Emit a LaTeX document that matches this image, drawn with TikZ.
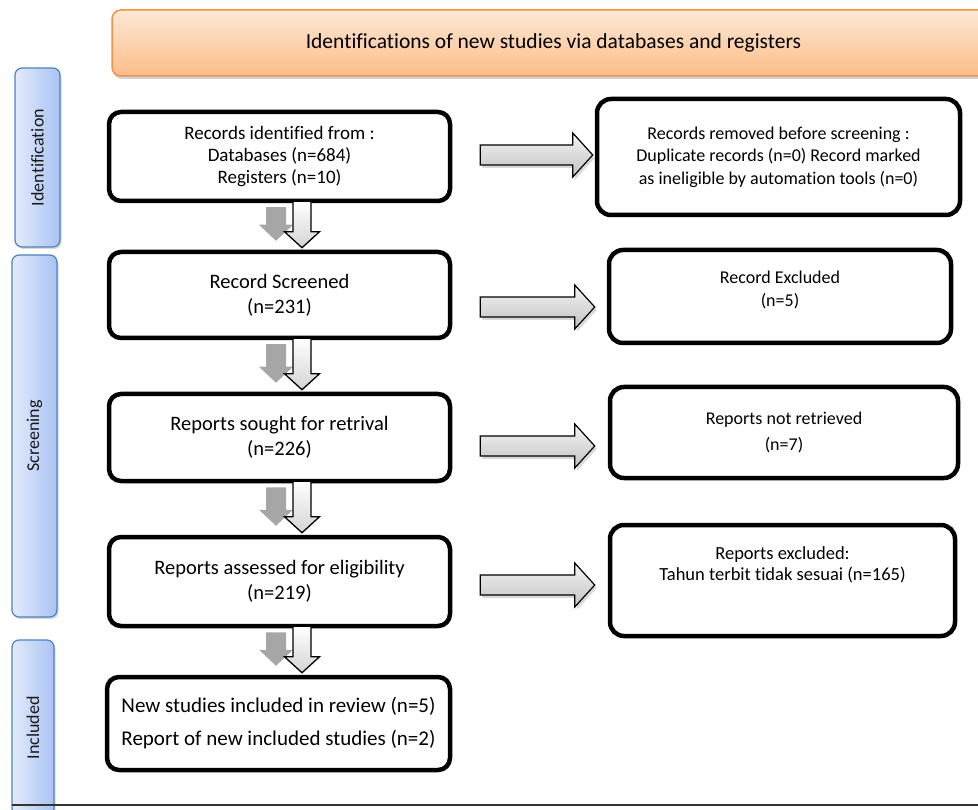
\documentclass[tikz,border=0pt]{standalone}
\usepackage{fontspec}
\setmainfont{Carlito}[Ligatures=NoCommon]
\usetikzlibrary{calc,shadows,backgrounds}
\definecolor{hdrtop}{HTML}{FDE8D6}
\definecolor{hdrbot}{HTML}{FBBD88}
\definecolor{hdrline}{HTML}{F3914A}
\definecolor{sidel}{HTML}{E3EBFB}
\definecolor{sider}{HTML}{A9C3F3}
\definecolor{sideline}{HTML}{4F81BD}
\definecolor{arrtop}{HTML}{F4F4F4}
\definecolor{arrbot}{HTML}{C2C2C2}
\definecolor{shadegray}{HTML}{A6A6A6}
\newcommand{\vflow}[2]{%
 \begin{pgfonlayer}{background}
 \path[grayarr] let \p1=(#1.south), \p2=(#2.north) in
  (\x1-13.5pt,\y1-4pt) -- (\x1+6.5pt,\y1-4pt) -- (\x1+6.5pt,\y2+25pt) -- (\x1+13.5pt,\y2+25pt)
  -- (\x1-3.5pt,\y2+9pt) -- (\x1-20.5pt,\y2+25pt) -- (\x1-13.5pt,\y2+25pt) -- cycle;
 \end{pgfonlayer}
 \path[whitearr] let \p1=(#1.south), \p2=(#2.north) in
  (\x1+13.5pt,\y1+2pt) -- (\x1+31.5pt,\y1+2pt) -- (\x1+31.5pt,\y2+18pt) -- (\x1+40pt,\y2+18pt)
  -- (\x1+22.5pt,\y2+2pt) -- (\x1+5pt,\y2+18pt) -- (\x1+13.5pt,\y2+18pt) -- cycle;
}
\newcommand{\hflow}[4]{%
 \path[sidearr] let \p1=(#1.east), \p2=(#2.west), \p3=(0,#3) in
  (\x1+28pt,\y3+10pt) -- (\x2-#4-20pt,\y3+10pt) -- (\x2-#4-20pt,\y3+22pt) -- (\x2-#4,\y3)
  -- (\x2-#4-20pt,\y3-22pt) -- (\x2-#4-20pt,\y3-10pt) -- (\x1+28pt,\y3-10pt) -- cycle;
}
\begin{document}
\begin{tikzpicture}[x=1pt,y=-1pt,
  hdr/.style={draw=hdrline, line width=1.5pt, rounded corners=9pt, top color=hdrtop, bottom color=hdrbot,
    minimum width=883pt, minimum height=66pt, inner sep=0pt, font=\fontsize{21.5}{25}\selectfont,
    drop shadow={opacity=0.35,shadow xshift=1pt,shadow yshift=-3pt}},
  sidebar/.style={draw=sideline, line width=1.2pt, rounded corners=7pt, left color=sidel, right color=sider,
    inner sep=0pt, drop shadow={opacity=0.3,shadow xshift=1.5pt,shadow yshift=-2pt}},
  sidetext/.style={rotate=90, font=\fontsize{18}{22}\selectfont, text=black!90},
  lbox/.style={draw=black, line width=4.5pt, rounded corners=12pt, fill=white, align=center,
    inner sep=0pt, minimum width=341pt, font=\fontsize{20.5}{25}\selectfont},
  rbox/.style={draw=black, line width=4.5pt, rounded corners=14pt, fill=white, align=center,
    inner sep=0pt, font=\fontsize{18}{22.5}\selectfont},
  sidearr/.style={draw=black, line width=1.2pt, top color=arrtop, bottom color=arrbot,
    drop shadow={opacity=0.3,shadow xshift=2pt,shadow yshift=-3pt}},
  whitearr/.style={draw=black, line width=1.3pt, top color=white, bottom color=arrbot!70},
  grayarr/.style={fill=shadegray},
  footline/.style={draw=black!80, line width=1.3pt}
]
\clip (0,0) rectangle (978,810);

% header
\node[hdr] (hdr) at (553.5,43) {Identifications of new studies via databases and registers};

% side bars
\node[sidebar, minimum width=45pt, minimum height=179pt] (idbar) at (37.5,157.5) {};
\node[sidetext] (idtxt) at (idbar.center) {Identification};
\node[sidebar, minimum width=45pt, minimum height=362pt] (scbar) at (34.5,436) {};
\node[sidetext] (sctxt) at (scbar.center) {Screening};
\node[sidebar, minimum width=42pt, minimum height=176pt] (inbar) at (33,728) {};
\node[sidetext] (intxt) at (inbar.center) {Included};

% left boxes
\node[lbox, minimum height=89pt, font=\fontsize{19}{22}\selectfont] (b1) at (279.5,156.5)
  {Records identified from :\\Databases (n=684)\\Registers (n=10)};
\node[lbox, minimum height=86pt] (b2) at (279.5,295) {Record Screened\\(n=231)};
\node[lbox, minimum height=87pt] (b3) at (279.5,437.5) {Reports sought for retrival\\(n=226)};
\node[lbox, minimum height=89pt] (b4) at (279.5,581.5) {Reports assessed for eligibility\\(n=219)};
\node[lbox, minimum width=343pt, minimum height=93pt, font=\fontsize{21}{33}\selectfont] (b5) at (278.5,723.5)
  {New studies included in review (n=5)\\Report of new included studies (n=2)};

% right boxes
\node[rbox, minimum width=363pt, minimum height=116pt] (r1) at (778.5,157)
  {Records removed before screening :\\Duplicate records (n=0) Record marked\\as ineligible by automation tools (n=0)};
\node[rbox, minimum width=342pt, minimum height=93pt, text depth=15pt] (r2) at (780,296.5)
  {Record Excluded\\(n=5)};
\node[rbox, minimum width=348pt, minimum height=91pt, font=\fontsize{18}{26}\selectfont] (r3) at (784,432.5)
  {Reports not retrieved\\(n=7)};
\node[rbox, minimum width=345pt, minimum height=111pt, text depth=34pt, font=\fontsize{18.5}{20.5}\selectfont] (r4) at (782.5,580.5)
  {Reports excluded:\\Tahun terbit tidak sesuai (n=165)};

% vertical flow arrows
\vflow{b1}{b2}
\vflow{b2}{b3}
\vflow{b3}{b4}
\vflow{b4}{b5}

% horizontal arrows
\hflow{b1}{r1}{155}{2pt}
\hflow{b2}{r2}{307}{12pt}
\hflow{b3}{r3}{446}{13pt}
\hflow{b4}{r4}{585}{13pt}

% bottom rule
\coordinate (fl) at (12,805);
\coordinate (fr) at (978,805);
\draw[footline] (fl) -- (fr);
\end{tikzpicture}
\end{document}
